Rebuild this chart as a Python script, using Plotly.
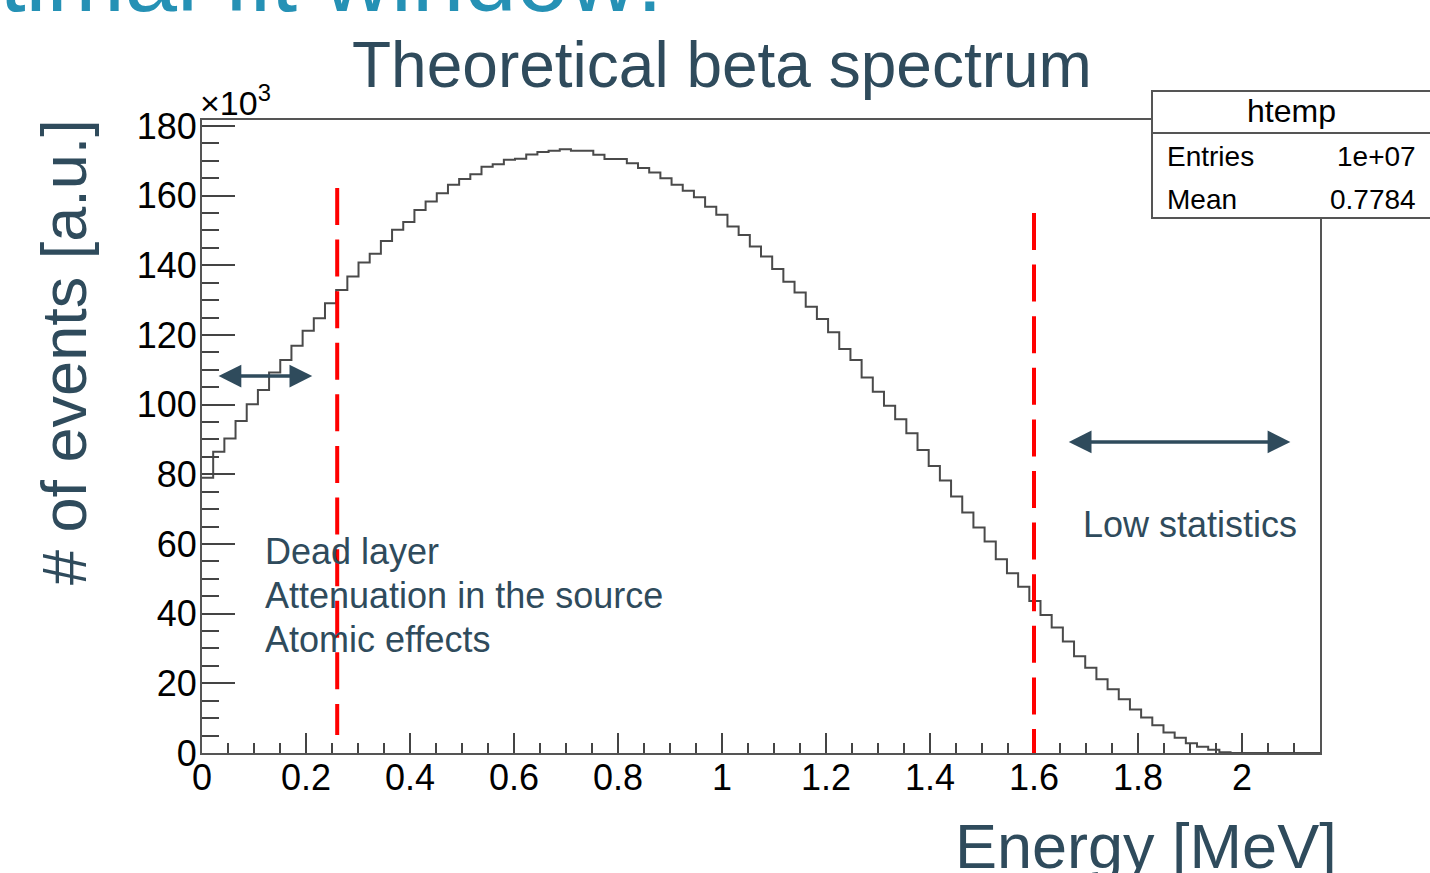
import plotly.graph_objects as go

# ---------------- data (counts in units of 10^3) ----------------
n_bins = 100
e_min, e_max = 0.0, 2.15
counts_k = [
    79.0, 86.5, 90.3, 95.3, 100.1, 104.2, 109.2, 112.8, 116.9, 121.2,
    124.8, 129.1, 132.9, 136.8, 140.8, 143.3, 147.0, 150.2, 152.4, 155.9,
    158.3, 160.7, 163.1, 164.8, 166.1, 168.3, 169.0, 170.3, 170.6, 171.8,
    172.5, 172.9, 173.3, 172.9, 172.9, 171.7, 170.5, 170.5, 169.3, 167.9,
    166.6, 165.0, 163.1, 161.4, 159.5, 156.8, 154.5, 151.1, 148.7, 145.4,
    142.5, 138.9, 135.3, 132.2, 128.1, 124.6, 120.8, 116.0, 112.8, 107.8,
    103.7, 99.7, 95.8, 91.8, 87.0, 82.4, 78.2, 73.6, 69.0, 64.7,
    60.7, 55.6, 51.6, 47.7, 43.6, 39.6, 36.0, 32.0, 27.8, 24.5,
    21.2, 18.3, 15.4, 12.5, 10.2, 8.0, 5.9, 4.4, 2.8, 1.8,
    0.9, 0.2, 0.0, 0.0, 0.0, 0.0, 0.0, 0.0, 0.0, 0.0,
]
x_tick_vals = [0, 0.2, 0.4, 0.6, 0.8, 1.0, 1.2, 1.4, 1.6, 1.8, 2.0]
x_tick_text = ["0", "0.2", "0.4", "0.6", "0.8", "1", "1.2", "1.4", "1.6", "1.8", "2"]
y_max = 181.7

stats_names = ["Entries", "Mean"]
stats_values = ["1e+07", "0.7784"]

# fit-window markers (energy, top, bottom in 10^3 counts)
window_lines = [(0.26, 162.2, 5.2), (1.6, 155.0, 0.0)]
# double arrows (x_start, x_end, y)
arrows = [(0.029, 0.212, 108.2), (1.664, 2.093, 89.3)]

left_notes = ["Dead layer", "Attenuation in the source", "Atomic effects"]
right_note = "Low statistics"

# ---------------- figure ----------------
bin_w = (e_max - e_min) / n_bins
edges = [e_min + i * bin_w for i in range(n_bins + 1)]
ys = counts_k + [counts_k[-1]]

FONT = "Liberation Sans, Arial, sans-serif"
SLATE = "#2f4b5c"

fig = go.Figure()
fig.add_trace(go.Scatter(
    x=edges, y=ys, mode="lines", line=dict(shape="hv", color="#4a4a4a", width=2),
    hoverinfo="skip", showlegend=False,
))

W, H = 1430, 873
L, R, T, B = 202, 110, 120, 120
pw, ph = W - L - R, H - T - B


def px(xp):
    return (xp - L) / pw


def py(yp):
    return (H - B - yp) / ph


fig.update_layout(
    width=W, height=H,
    margin=dict(l=L, r=R, t=T, b=B, pad=0),
    paper_bgcolor="white", plot_bgcolor="white",
    showlegend=False,
    font=dict(family=FONT, color="black"),
)
fig.update_xaxes(
    range=[e_min, e_max], tickvals=x_tick_vals, ticktext=x_tick_text,
    ticks="inside", ticklen=20, tickwidth=1.5, tickcolor="#444",
    minor=dict(dtick=0.05, tick0=0, ticks="inside", ticklen=10, tickwidth=1.5, tickcolor="#444"),
    showline=True, linecolor="#555", linewidth=2, mirror=True,
    showgrid=False, zeroline=False,
    tickfont=dict(size=36, family=FONT, color="black"), ticklabelstandoff=-8,
)
fig.update_yaxes(
    range=[0, y_max], dtick=20, tick0=0,
    ticks="inside", ticklen=33, tickwidth=1.5, tickcolor="#444",
    minor=dict(dtick=5, tick0=0, ticks="inside", ticklen=17, tickwidth=1.5, tickcolor="#444"),
    showline=True, linecolor="#555", linewidth=2, mirror=True,
    showgrid=False, zeroline=False,
    tickfont=dict(size=36, family=FONT, color="black"), ticklabelstandoff=-4,
)

# red dashed window lines
for xv, ytop, ybot in window_lines:
    fig.add_shape(type="line", xref="x", yref="y", x0=xv, x1=xv, y0=ytop, y1=ybot,
                  line=dict(color="#ff0000", width=4, dash="37px,14.6px"), layer="above")

# double arrows
for xa, xb, yv in arrows:
    fig.add_annotation(x=xb, y=yv, ax=xa, ay=yv, xref="x", yref="y", axref="x", ayref="y",
                       text="", showarrow=True, arrowside="end+start",
                       arrowhead=2, startarrowhead=2, arrowsize=1.3, startarrowsize=1.3,
                       arrowwidth=3.5, arrowcolor=SLATE, standoff=0, startstandoff=0)

# stats box
fig.add_shape(type="rect", xref="paper", yref="paper",
              x0=px(1152), x1=px(1440), y0=py(218), y1=py(91),
              line=dict(color="#555", width=2), fillcolor="white", layer="above")
fig.add_shape(type="line", xref="paper", yref="paper",
              x0=px(1152), x1=px(1440), y0=py(133), y1=py(133),
              line=dict(color="#555", width=2), layer="above")
fig.add_annotation(x=px(1291), y=py(111), xref="paper", yref="paper", text="htemp",
                   showarrow=False, font=dict(size=32, color="black", family=FONT),
                   xanchor="center", yanchor="middle")
for i, (nm, val) in enumerate(zip(stats_names, stats_values)):
    yy = py(156 + 43 * i)
    fig.add_annotation(x=px(1165), y=yy, xref="paper", yref="paper", text=nm, showarrow=False,
                       font=dict(size=28, color="black", family=FONT), xanchor="left", yanchor="middle")
    fig.add_annotation(x=px(1418), y=yy, xref="paper", yref="paper", text=val, showarrow=False,
                       font=dict(size=28, color="black", family=FONT), xanchor="right", yanchor="middle")

# x10^3 exponent label
fig.add_annotation(x=px(198), y=py(100), xref="paper", yref="paper", text="×10<sup>3</sup>",
                   showarrow=False, font=dict(size=34, color="black", family=FONT),
                   xanchor="left", yanchor="middle")

# titles
fig.add_annotation(x=px(722), y=py(65), xref="paper", yref="paper", text="Theoretical beta spectrum",
                   showarrow=False, font=dict(size=64, color=SLATE, family=FONT),
                   xanchor="center", yanchor="middle")
fig.add_annotation(x=px(64), y=py(352), xref="paper", yref="paper", text="# of events [a.u.]",
                   showarrow=False, textangle=-90, font=dict(size=63, color=SLATE, family=FONT),
                   xanchor="center", yanchor="middle")
fig.add_annotation(x=px(1339), y=py(846), xref="paper", yref="paper", text="Energy [MeV]",
                   showarrow=False, font=dict(size=63, color=SLATE, family=FONT),
                   xanchor="right", yanchor="middle")
fig.add_annotation(x=px(665), y=py(-22), xref="paper", yref="paper", text="Optimal fit window:",
                   showarrow=False, font=dict(size=94, color="#2591b5", family=FONT),
                   xanchor="right", yanchor="middle")

# notes
for i, t in enumerate(left_notes):
    fig.add_annotation(x=px(263), y=py(551 + 44 * i), xref="paper", yref="paper", text=t,
                       showarrow=False, font=dict(size=36, color=SLATE, family=FONT),
                       xanchor="left", yanchor="middle")
fig.add_annotation(x=px(1081), y=py(524), xref="paper", yref="paper", text=right_note,
                   showarrow=False, font=dict(size=36, color=SLATE, family=FONT),
                   xanchor="left", yanchor="middle")

fig.write_html(
    "out.html",
    config={"displayModeBar": False},
    post_script="document.body.style.margin='0';document.body.style.overflow='hidden';",
)
